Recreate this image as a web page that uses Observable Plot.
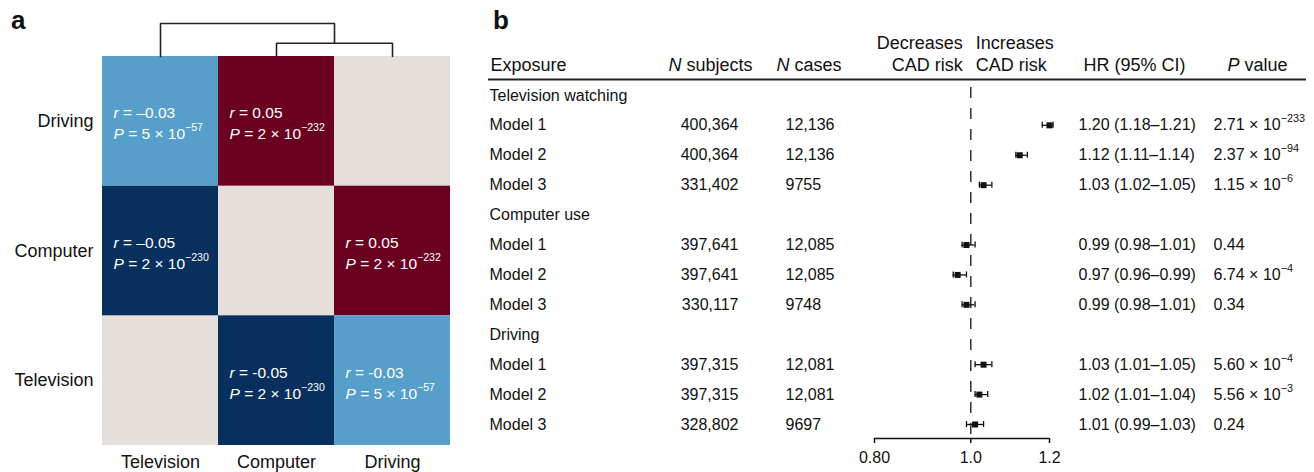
<!DOCTYPE html>
<html><head><meta charset="utf-8">
<script src="https://cdn.jsdelivr.net/npm/d3@7"></script>
<script src="https://cdn.jsdelivr.net/npm/@observablehq/plot@0.6"></script>
<style>
body{margin:0;background:#fff;font-family:"Liberation Sans",Arial,sans-serif;}
#wrap{position:relative;width:1314px;height:472px;overflow:hidden;background:#fff}
.panel{position:absolute;top:0}
.letter{position:absolute;font-weight:bold;font-size:26px;line-height:26px;color:#111}
</style></head><body>
<div id="wrap">
  <div id="pa" class="panel" style="left:0"></div>
  <div id="pd" class="panel" style="left:0"></div>
  <div id="pb" class="panel" style="left:470px"></div>
  <div class="letter" style="left:11px;top:7px">a</div>
  <div class="letter" style="left:493px;top:7px">b</div>
</div>
<script>
// ---------- Panel a data ----------
const heatVars = ["Television", "Computer", "Driving"];      // columns (left → right)
const heatRows = ["Driving", "Computer", "Television"];      // rows (top → bottom)
const pairA = ["Television", "Television", "Computer"];
const pairB = ["Computer", "Driving", "Driving"];
const pairR = [-0.05, -0.03, 0.05];
const pairPMant = [2, 5, 2];
const pairPExp = [-230, -57, -232];
// dendrogram merges (children, merge height)
const dendroLeft = ["Computer", "Television"];
const dendroRight = ["Driving", "node0"];
const dendroHeight = [0.4, 1.0];

// ---------- Panel b data ----------
const groups = ["Television watching", "Computer use", "Driving"];
const models = ["Model 1", "Model 2", "Model 3"];
const nSubjects = [400364, 400364, 331402, 397641, 397641, 330117, 397315, 397315, 328802];
const nCases = [12136, 12136, 9755, 12085, 12085, 9748, 12081, 12081, 9697];
const hrEst = [1.20, 1.12, 1.03, 0.99, 0.97, 0.99, 1.03, 1.02, 1.01];
const hrLo = [1.18, 1.11, 1.02, 0.98, 0.96, 0.98, 1.01, 1.01, 0.99];
const hrHi = [1.21, 1.14, 1.05, 1.01, 0.99, 1.01, 1.05, 1.04, 1.03];
const pMant = ["2.71", "2.37", "1.15", "0.44", "6.74", "0.34", "5.60", "5.56", "0.24"];
const pExp = [-233, -94, -6, null, -4, null, -4, -3, null];
const axisTicks = [0.8, 1.0, 1.2];
const axisTickLabels = ["0.80", "1.0", "1.2"];

const FONT = '"Liberation Sans", Arial, sans-serif';
const INK = "#111";

// rich-text post-processing: *italic*, ^{superscript}
function richText(svg) {
  const NS = "http://www.w3.org/2000/svg";
  svg.querySelectorAll("text").forEach(t => {
    const nodes = t.querySelectorAll("tspan").length ? [...t.querySelectorAll("tspan")] : [t];
    nodes.forEach(node => {
      const s = node.textContent;
      if (!/[*^]/.test(s)) return;
      node.textContent = "";
      const parts = s.split(/(\*[^*]+\*|\^\{[^}]+\})/).filter(p => p);
      let raised = false;
      for (const p of parts) {
        const ts = document.createElementNS(NS, "tspan");
        if (p.startsWith("*")) {
          ts.textContent = p.slice(1, -1);
          ts.setAttribute("font-style", "italic");
        } else if (p.startsWith("^{")) {
          ts.textContent = p.slice(2, -1);
          ts.setAttribute("font-size", "0.68em");
          ts.setAttribute("dy", "-0.75em");
          raised = true;
        } else {
          ts.textContent = p;
          if (raised) { ts.setAttribute("dy", "0.51em"); raised = false; }
        }
        node.appendChild(ts);
      }
    });
  });
}

// ---------- Panel a: heatmap ----------
const offDiag = [], diag = [];
heatRows.forEach((row, ri) => {
  heatVars.forEach((col, ci) => {
    if (row === col) { diag.push({row, col}); return; }
    const k = pairA.findIndex((a, i) => (a === row && pairB[i] === col) || (a === col && pairB[i] === row));
    const r = pairR[k];
    const minus = (ri + ci) < 2 ? "–" : "-";
    const rTxt = (r < 0 ? minus : "") + Math.abs(r).toFixed(2);
    offDiag.push({
      row, col, r,
      line1: `*r* = ${rTxt}`,
      line2: `*P* = ${pairPMant[k]} × 10^{−${Math.abs(pairPExp[k])}}`
    });
  });
});

const heat = Plot.plot({
  width: 470, height: 472,
  marginLeft: 102, marginRight: 20, marginTop: 56, marginBottom: 27,
  style: {fontFamily: FONT, fontSize: "18px", color: INK, background: "transparent"},
  x: {domain: heatVars, padding: 0, round: false, label: null, axis: null},
  y: {domain: heatRows, padding: 0, round: false, label: null, axis: null},
  color: {type: "linear", domain: [-0.05, -0.03, 0, 0.05], range: ["#08305e", "#569fcb", "#e4dfdb", "#6b0121"]},
  marks: [
    Plot.cell(diag, {x: "col", y: "row", fill: "#e4dfdb", inset: 0}),
    Plot.cell(offDiag, {x: "col", y: "row", fill: "r", inset: 0}),
    Plot.text(offDiag, {x: "col", y: "row", text: "line1", textAnchor: "start", dx: -47, dy: -8, fill: "white", fontSize: 15.5}),
    Plot.text(offDiag, {x: "col", y: "row", text: "line2", textAnchor: "start", dx: -47, dy: 13, fill: "white", fontSize: 15.5}),
    Plot.axisY({tickSize: 0, tickPadding: 9, fontSize: 18, label: null}),
    Plot.axisX({tickSize: 0, tickPadding: 10, fontSize: 18, label: null})
  ]
});
richText(heat);
document.getElementById("pa").appendChild(heat);

// ---------- Panel a: dendrogram ----------
const nodePos = {}, nodeH = {};
heatVars.forEach((v, i) => { nodePos[v] = i; nodeH[v] = 0; });
const dendroLines = [];
dendroLeft.forEach((l, i) => {
  const r = dendroRight[i], h = dendroHeight[i], id = "node" + i;
  dendroLines.push({m: i, x: nodePos[l], h: nodeH[l]}, {m: i, x: nodePos[l], h},
                   {m: i, x: nodePos[r], h}, {m: i, x: nodePos[r], h: nodeH[r]});
  nodePos[id] = (nodePos[l] + nodePos[r]) / 2;
  nodeH[id] = h;
});
const dendro = Plot.plot({
  width: 470, height: 60,
  style: {background: "transparent"},
  x: {type: "linear", domain: [-0.5, 2.5], range: [102, 450], axis: null},
  y: {type: "linear", domain: [0, 1], range: [56, 23], axis: null},
  marks: [
    Plot.line(dendroLines, {x: "x", y: "h", z: "m", stroke: "#222", strokeWidth: 1.6, strokeLinejoin: "miter", curve: "linear"})
  ]
});
document.getElementById("pd").appendChild(dendro);

// ---------- Panel b: forest table ----------
const fmtN = n => n >= 10000 ? d3.format(",")(n) : String(n);
const rowIds = [];
const groupRows = [], modelRows = [];
groups.forEach((g, gi) => {
  rowIds.push("g" + gi);
  groupRows.push({id: "g" + gi, label: g});
  models.forEach((m, mi) => {
    const k = gi * 3 + mi, id = `g${gi}m${mi}`;
    rowIds.push(id);
    modelRows.push({
      id, label: m,
      subj: fmtN(nSubjects[k]), cases: fmtN(nCases[k]),
      hr: hrEst[k], lo: hrLo[k], hi: hrHi[k],
      hrTxt: `${hrEst[k].toFixed(2)} (${hrLo[k].toFixed(2)}–${hrHi[k].toFixed(2)})`,
      pTxt: pExp[k] == null ? pMant[k] : `${pMant[k]} × 10^{−${Math.abs(pExp[k])}}`
    });
  });
});
const yDomain = ["hdr", ...rowIds];
const lastRow = rowIds[rowIds.length - 1];
const one = [1];
const tickLabel = d => axisTickLabels[d3.minIndex(axisTicks, t => Math.abs(t - d))];

const hdr = (text, opts) => Plot.text([text], {text: d => d, y: () => "hdr", frameAnchor: "left", fontSize: 18, fill: INK, ...opts});

const forest = Plot.plot({
  width: 844, height: 472,
  marginLeft: 18, marginRight: 8, marginTop: 87, marginBottom: 34,
  style: {fontFamily: FONT, fontSize: "16px", color: INK, background: "transparent"},
  x: {type: "log", domain: [0.8, 1.2], range: [404, 579], label: null},
  y: {type: "point", domain: yDomain, range: [65, 424], padding: 0, round: false, axis: null},
  marks: [
    // header
    hdr("Exposure", {textAnchor: "start", dx: 2}),
    hdr("*N* subjects", {textAnchor: "end", dx: 264}),
    hdr("*N* cases", {textAnchor: "start", dx: 288}),
    hdr("HR (95% CI)", {textAnchor: "start", dx: 595}),
    hdr("*P* value", {textAnchor: "start", dx: 739}),
    Plot.text(one, {x: d => d, y: () => "hdr", text: () => "Decreases", textAnchor: "end", dx: -8, dy: -22, fontSize: 18, fill: INK}),
    Plot.text(one, {x: d => d, y: () => "hdr", text: () => "CAD risk", textAnchor: "end", dx: -8, fontSize: 18, fill: INK}),
    Plot.text(one, {x: d => d, y: () => "hdr", text: () => "Increases", textAnchor: "start", dx: 5, dy: -22, fontSize: 18, fill: INK}),
    Plot.text(one, {x: d => d, y: () => "hdr", text: () => "CAD risk", textAnchor: "start", dx: 5, fontSize: 18, fill: INK}),
    Plot.ruleY(["hdr"], {y: d => d, dy: 14, stroke: "#222", strokeWidth: 1.8}),
    // group and model labels
    Plot.text(groupRows, {y: "id", text: "label", frameAnchor: "left", textAnchor: "start", dx: 1, fill: INK}),
    Plot.text(modelRows, {y: "id", text: "label", frameAnchor: "left", textAnchor: "start", dx: 1, fill: INK}),
    Plot.text(modelRows, {y: "id", text: "subj", frameAnchor: "left", textAnchor: "end", dx: 250, fill: INK}),
    Plot.text(modelRows, {y: "id", text: "cases", frameAnchor: "left", textAnchor: "start", dx: 297, fill: INK}),
    Plot.text(modelRows, {y: "id", text: "hrTxt", frameAnchor: "left", textAnchor: "start", dx: 590, fill: INK}),
    Plot.text(modelRows, {y: "id", text: "pTxt", frameAnchor: "left", textAnchor: "start", dx: 725, fill: INK}),
    // reference line at HR = 1
    Plot.ruleX(one, {x: d => d, stroke: "#111", strokeWidth: 1.3, strokeDasharray: "11,10"}),
    // CIs and estimates
    Plot.ruleY(modelRows, {y: "id", x1: "lo", x2: "hi", stroke: "#111", strokeWidth: 1.3}),
    Plot.ruleX(modelRows, {x: "lo", y1: "id", y2: "id", insetTop: -3, insetBottom: -3, stroke: "#111", strokeWidth: 1.3}),
    Plot.ruleX(modelRows, {x: "hi", y1: "id", y2: "id", insetTop: -3, insetBottom: -3, stroke: "#111", strokeWidth: 1.3}),
    Plot.dot(modelRows, {x: "hr", y: "id", symbol: "square", r: 3.4, fill: "#111"}),
    // x axis
    Plot.ruleY([lastRow], {y: d => d, x1: axisTicks[0], x2: axisTicks[axisTicks.length - 1], dy: 14, stroke: "#111", strokeWidth: 1.5}),
    Plot.axisX({ticks: axisTicks, tickFormat: tickLabel, tickSize: 5, tickPadding: 8, fontSize: 16, fill: INK, label: null, stroke: "#111", strokeWidth: 1.5})
  ]
});
richText(forest);
document.getElementById("pb").appendChild(forest);
</script>
</body></html>
